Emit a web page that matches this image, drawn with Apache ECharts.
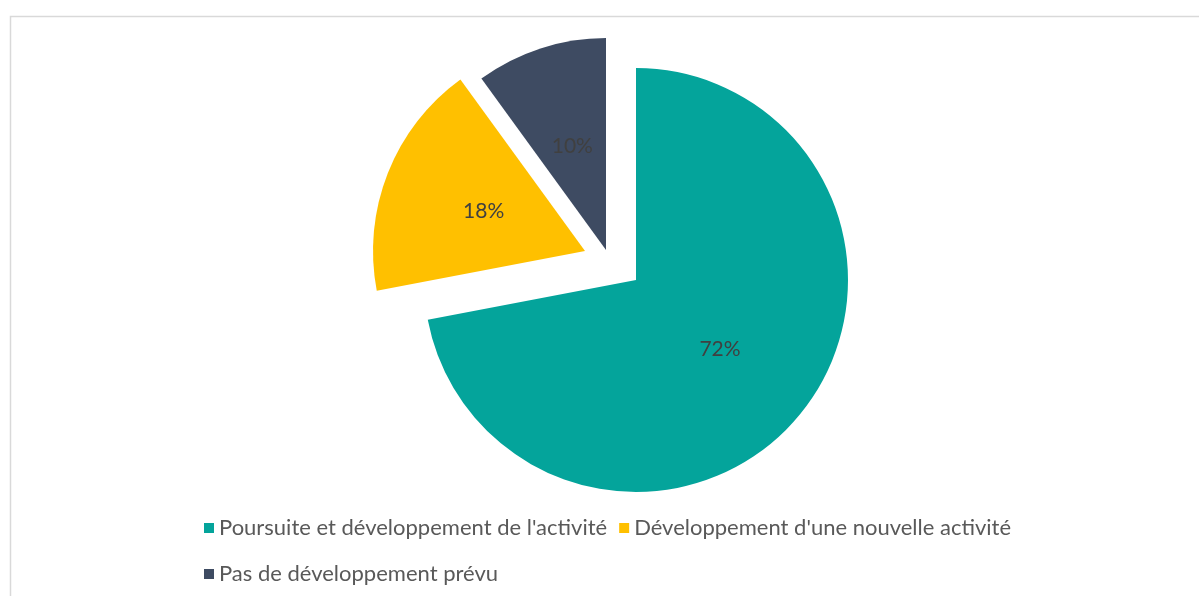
<!DOCTYPE html>
<html>
<head>
<meta charset="utf-8">
<script src="https://cdn.jsdelivr.net/npm/echarts@6/dist/echarts.min.js"></script>
<style>
    html, body { margin: 0; padding: 0; background: #fff; }
    #chart { width: 1199px; height: 596px; }
</style>
</head>
<body>
<div id="chart"></div>
<script>
// données du graphique
const categories = ["Poursuite et développement de l'activité", "Développement d'une nouvelle activité", "Pas de développement prévu"];
const values = [72, 18, 10];
const colors = ['#04a49b', '#ffc000', '#3e4b62'];
// centre de chaque part (parts détachées comme dans Excel)
const centers = [[636, 280], [585, 251], [606, 250]];

let myChart = echarts.init(document.getElementById('chart'));

// une série par part, les autres parts restent transparentes
let series = categories.map(function (name, k) {
    return {
        name: name,
        type: 'pie',
        center: centers[k],
        radius: 212,
        startAngle: 90,
        clockwise: true,
        avoidLabelOverlap: false,
        emphasis: { disabled: true },
        label: {
            position: 'inside',
            formatter: '{d}%',
            color: '#404040',
            fontFamily: 'Lato',
            fontSize: 21
        },
        labelLine: { show: false },
        data: categories.map(function (n, i) {
            return {
                name: n,
                value: values[i],
                itemStyle: { color: i === k ? colors[i] : 'rgba(0,0,0,0)' },
                label: { show: i === k }
            };
        })
    };
});

let option = {
    backgroundColor: '#fff',
    animation: false,
    graphic: [{
        type: 'rect',
        shape: { x: 10.5, y: 16.5, width: 1300, height: 700 },
        style: { fill: 'none', stroke: '#d9d9d9', lineWidth: 1.5 },
        silent: true
    }],
    legend: {
        left: 199,
        top: 506,
        width: 880,
        itemGap: 12,
        itemWidth: 10,
        itemHeight: 10,
        icon: 'rect',
        textStyle: {
            color: '#595959',
            fontFamily: 'Lato',
            fontSize: 22,
            lineHeight: 34,
            padding: [0, 0, 0, 0]
        },
        data: categories.map(function (n, i) {
            return { name: n, itemStyle: { color: colors[i] } };
        })
    },
    series: series
};
myChart.setOption(option);
</script>
</body>
</html>
